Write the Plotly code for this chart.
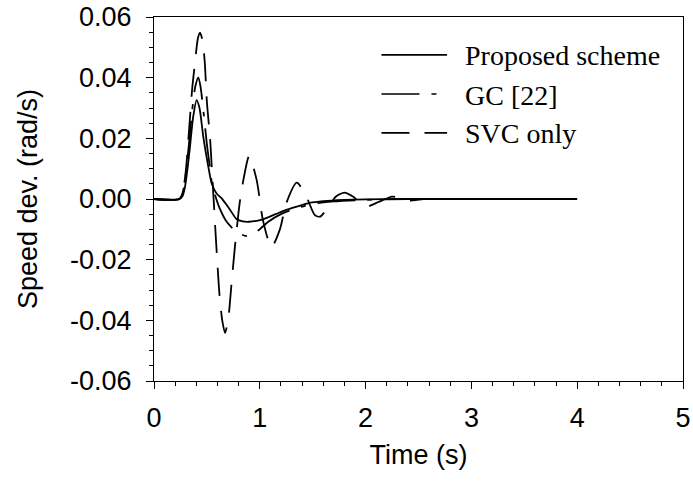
import plotly.graph_objects as go

# ---------------- data ----------------
t_prop = [0, 0.24, 0.27, 0.293, 0.32, 0.34, 0.37, 0.403, 0.43, 0.466, 0.513, 0.545, 0.59, 0.64,
          0.687, 0.72, 0.78, 0.84, 0.90, 0.97, 1.03, 1.15, 1.25, 1.35, 1.47, 1.6, 1.8, 2.0, 2.3, 2.7, 3.2, 4.0]
y_prop = [0, 0, 0.001, 0.004, 0.011, 0.0172, 0.027, 0.0326, 0.030, 0.0205, 0.0107, 0.0052, 0.0019, 0.0002,
          -0.002, -0.0036, -0.0066, -0.0074, -0.0075, -0.0072, -0.0067, -0.0050, -0.0036, -0.0025, -0.0013,
          -0.0007, -0.0003, -0.0001, 0, 0, 0, 0]

t_gc = [0, 0.24, 0.27, 0.30, 0.33, 0.36, 0.39, 0.419, 0.44, 0.47, 0.50, 0.53, 0.545, 0.58, 0.62,
        0.687, 0.78, 0.876, 0.98, 1.08, 1.2, 1.35, 1.5, 1.7, 2.0, 2.4, 3.0, 4.0]
y_gc = [0, 0, 0.002, 0.008, 0.018, 0.029, 0.037, 0.0401, 0.037, 0.028, 0.018, 0.010, 0.0057, 0.001, -0.003,
        -0.0075, -0.0108, -0.0122, -0.0105, -0.0075, -0.0050, -0.0030, -0.0016, -0.0008, -0.0003, 0, 0, 0]

t_svc = [0, 0.24, 0.27, 0.30, 0.33, 0.36, 0.387, 0.415, 0.435, 0.46, 0.48, 0.50, 0.53, 0.55, 0.565,
         0.59, 0.62, 0.645, 0.671, 0.70, 0.735, 0.765, 0.81, 0.845, 0.90, 0.97, 1.03, 1.11, 1.19, 1.25,
         1.35, 1.44, 1.52, 1.57, 1.65, 1.72, 1.80, 1.88, 1.96, 2.03, 2.12, 2.25, 2.34, 2.42, 2.55, 3.0, 4.0]
y_svc = [0, 0, 0.002, 0.009, 0.022, 0.036, 0.0447, 0.053, 0.0548, 0.052, 0.045, 0.032, 0.020, 0.008, -0.001,
         -0.016, -0.032, -0.040, -0.0441, -0.040, -0.027, -0.0157, -0.0013, 0.0063, 0.0142, 0.0063, -0.007,
         -0.0159, -0.010, -0.0014, 0.0054, 0.0008, -0.0053, -0.0058, -0.0025, 0.0008, 0.0021, 0.0008,
         -0.0015, -0.0023, -0.0010, 0.0008, 0.0002, -0.0005, 0, 0, 0]

names = ["Proposed scheme", "GC [22]", "SVC only"]
dashes = ["solid", "38px,12px,5px,12px", "28px,15px"]

y_tickvals = [-0.06, -0.04, -0.02, 0.0, 0.02, 0.04, 0.06]
y_ticktext = ["-0.06", "-0.04", "-0.02", "0.00", "0.02", "0.04", "0.06"]
x_tickvals = [0, 1, 2, 3, 4, 5]
x_ticktext = ["0", "1", "2", "3", "4", "5"]

# legend placement (data coords)
leg_y = [0.0475, 0.0346, 0.0218]
leg_x0, leg_x1, leg_tx = 2.15, 2.77, 2.94

fig = go.Figure()
for t, y, n, d in zip([t_prop, t_gc, t_svc], [y_prop, y_gc, y_svc], names, dashes):
    fig.add_trace(go.Scatter(x=t, y=y, name=n, mode="lines",
                             line=dict(color="black", width=1.8, dash=d, shape="spline", smoothing=0.7),
                             showlegend=False))

for ly, n, d in zip(leg_y, names, dashes):
    fig.add_shape(type="line", xref="x", yref="y", x0=leg_x0, x1=leg_x1, y0=ly, y1=ly,
                  line=dict(color="black", width=1.6, dash=d))
    fig.add_annotation(x=leg_tx, y=ly, xref="x", yref="y", text=n, showarrow=False,
                       xanchor="left", yanchor="middle", xshift=-2, yshift=-1,
                       font=dict(family="Liberation Serif, Times New Roman, serif", size=28, color="black"))

axis_font = dict(family="Liberation Sans, Arial, sans-serif", size=27, color="black")
fig.update_layout(
    width=693, height=483,
    margin=dict(l=154, r=10, t=17, b=102, autoexpand=False),
    paper_bgcolor="white", plot_bgcolor="white",
    font=axis_font,
    xaxis=dict(range=[0, 5], tickvals=x_tickvals, ticktext=x_ticktext, ticks="outside", ticklen=7,
               tickwidth=1, tickcolor="black", showline=True, linecolor="black", linewidth=1, mirror=True,
               showgrid=False, zeroline=False, tickfont=axis_font, ticklabelstandoff=6, automargin=False,
               minor=dict(dtick=0.2, tick0=0, ticks="outside", ticklen=4, tickcolor="black", showgrid=False),
               title=dict(text="Time (s)", font=axis_font, standoff=12)),
    yaxis=dict(range=[-0.06, 0.06], tickvals=y_tickvals, ticktext=y_ticktext, ticks="outside", ticklen=7,
               tickwidth=1, tickcolor="black", showline=True, linecolor="black", linewidth=1, mirror=True,
               showgrid=False, zeroline=False, tickfont=axis_font, ticklabelstandoff=9, automargin=False,
               minor=dict(dtick=0.005, tick0=0, ticks="outside", ticklen=4, tickcolor="black", showgrid=False),
               title=dict(text="Speed dev. (rad/s)", font=axis_font, standoff=24)),
)

fig.write_html("out.html")
